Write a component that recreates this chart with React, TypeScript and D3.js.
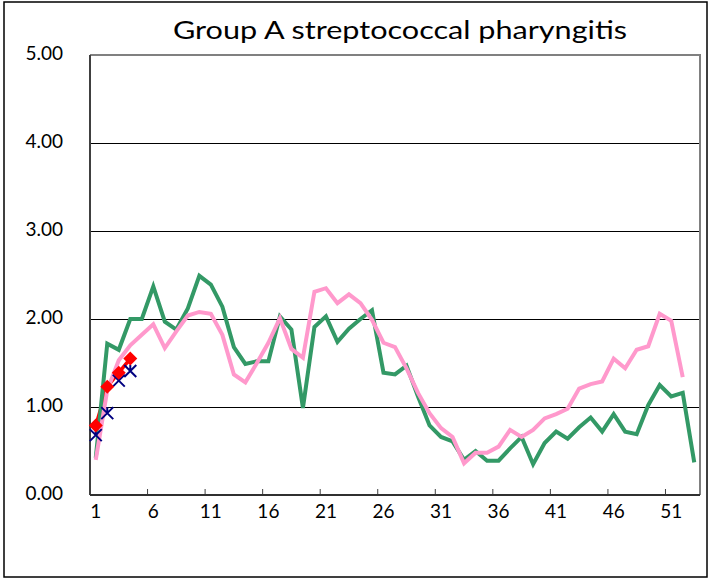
import React, { useEffect, useRef } from 'react';
import * as d3 from 'd3';

// weeks 1..53
const weeks: number[] = d3.range(1, 54);

// previous season series (green) and pink series
const greenValues: number[] = [
  0.42, 1.72, 1.65, 2.0, 2.0, 2.37, 1.97, 1.88, 2.12, 2.49,
  2.39, 2.14, 1.68, 1.49, 1.52, 1.52, 2.03, 1.88, 0.99, 1.91,
  2.03, 1.74, 1.89, 2.0, 2.1, 1.39, 1.37, 1.47, 1.12, 0.79,
  0.66, 0.61, 0.4, 0.5, 0.39, 0.39, 0.53, 0.66, 0.35, 0.59,
  0.72, 0.64, 0.77, 0.88, 0.72, 0.92, 0.72, 0.69, 1.02, 1.25,
  1.12, 1.16, 0.37,
];

const pinkValues: number[] = [
  0.4, 1.19, 1.53, 1.7, 1.82, 1.94, 1.67, 1.86, 2.04, 2.08,
  2.06, 1.82, 1.37, 1.28, 1.5, 1.73, 2.01, 1.66, 1.56, 2.31,
  2.35, 2.18, 2.28, 2.18, 1.99, 1.73, 1.68, 1.44, 1.16, 0.93,
  0.76, 0.66, 0.36, 0.48, 0.48, 0.55, 0.74, 0.66, 0.74, 0.87,
  0.92, 0.98, 1.21, 1.26, 1.29, 1.55, 1.44, 1.65, 1.69, 2.06,
  1.98, 1.34,
];

const blueValues: number[] = [0.68, 0.93, 1.3, 1.41];
const redValues: number[] = [0.79, 1.23, 1.39, 1.55];

const yTicks: number[] = [0, 1, 2, 3, 4, 5];
const xTickLabels: number[] = [1, 6, 11, 16, 21, 26, 31, 36, 41, 46, 51];

const title = 'Group A streptococcal pharyngitis';

export default function App() {
  const ref = useRef<SVGSVGElement>(null);

  useEffect(() => {
    const width = 709;
    const height = 584;
    const margin = { top: 55, right: 9, bottom: 89, left: 90 };
    const font = 'Lato, "Noto Sans", sans-serif';

    const svg = d3.select(ref.current);
    svg.selectAll('*').remove();

    const x = d3.scaleBand<number>()
      .domain(weeks)
      .range([margin.left, width - margin.right]);
    const cx = (w: number) => x(w)! + x.bandwidth() / 2;

    const y = d3.scaleLinear()
      .domain([0, 5])
      .range([height - margin.bottom, margin.top]);

    // outer border
    svg.append('rect')
      .attr('x', 4)
      .attr('y', 2)
      .attr('width', 703)
      .attr('height', 575)
      .attr('fill', '#fff')
      .attr('stroke', '#000')
      .attr('stroke-width', 1.5);

    // title
    svg.append('text')
      .attr('x', 400)
      .attr('y', 39)
      .attr('text-anchor', 'middle')
      .attr('font-family', font)
      .attr('font-size', 25)
      .attr('textLength', 454)
      .attr('lengthAdjust', 'spacingAndGlyphs')
      .text(title);

    // gridlines
    svg.append('g')
      .selectAll('line')
      .data(yTicks.filter((t) => t > 0 && t < 5))
      .enter()
      .append('line')
      .attr('x1', margin.left)
      .attr('x2', width - margin.right)
      .attr('y1', (d) => y(d) + 0.5)
      .attr('y2', (d) => y(d) + 0.5)
      .attr('stroke', '#000')
      .attr('stroke-width', 1);

    // plot frame top/right
    svg.append('path')
      .attr('d', `M${margin.left},${y(5)}H${width - margin.right}V${y(0)}`)
      .attr('fill', 'none')
      .attr('stroke', '#808080')
      .attr('stroke-width', 2);

    // y labels
    svg.append('g')
      .selectAll('text')
      .data(yTicks)
      .enter()
      .append('text')
      .attr('x', 63)
      .attr('y', (d) => y(d) + 5)
      .attr('text-anchor', 'end')
      .attr('font-family', font)
      .attr('font-size', 19)
      .text((d) => d3.format('.2f')(d));

    // x ticks at every 5 category boundaries
    const boundaries = [0, 5, 10, 15, 20, 25, 30, 35, 40, 45, 50];
    svg.append('g')
      .selectAll('line')
      .data(boundaries)
      .enter()
      .append('line')
      .attr('x1', (i) => x(weeks[i])!)
      .attr('x2', (i) => x(weeks[i])!)
      .attr('y1', y(0))
      .attr('y2', y(0) - 6)
      .attr('stroke', '#404040')
      .attr('stroke-width', 1);

    svg.append('g')
      .selectAll('text')
      .data(xTickLabels)
      .enter()
      .append('text')
      .attr('x', (d) => cx(d))
      .attr('y', 518)
      .attr('text-anchor', 'middle')
      .attr('font-family', font)
      .attr('font-size', 19)
      .text((d) => d);

    // axes lines
    svg.append('line')
      .attr('x1', margin.left)
      .attr('x2', margin.left)
      .attr('y1', y(5))
      .attr('y2', y(0))
      .attr('stroke', '#404040')
      .attr('stroke-width', 2);
    svg.append('line')
      .attr('x1', margin.left)
      .attr('x2', width - margin.right)
      .attr('y1', y(0))
      .attr('y2', y(0))
      .attr('stroke', '#303030')
      .attr('stroke-width', 2);

    const line = d3.line<number>()
      .x((d, i) => cx(weeks[i]))
      .y((d) => y(d));

    svg.append('path')
      .datum(redValues)
      .attr('d', line)
      .attr('fill', 'none')
      .attr('stroke', '#ff0000')
      .attr('stroke-width', 3.5);

    svg.append('path')
      .datum(greenValues)
      .attr('d', line)
      .attr('fill', 'none')
      .attr('stroke', '#339966')
      .attr('stroke-width', 4);

    svg.append('path')
      .datum(pinkValues)
      .attr('d', line)
      .attr('fill', 'none')
      .attr('stroke', '#ff99cc')
      .attr('stroke-width', 4);

    // blue star markers
    const s = 6;
    svg.append('g')
      .selectAll('path')
      .data(blueValues)
      .enter()
      .append('path')
      .attr('transform', (d, i) => `translate(${cx(weeks[i])},${y(d)})`)
      .attr('d', `M${-s},${-s}L${s},${s}M${-s},${s}L${s},${-s}M0,${-s}V0`)
      .attr('stroke', '#000080')
      .attr('stroke-width', 2)
      .attr('fill', 'none');

    // red diamond markers
    const r = 7;
    svg.append('g')
      .selectAll('path')
      .data(redValues)
      .enter()
      .append('path')
      .attr('transform', (d, i) => `translate(${cx(weeks[i])},${y(d)})`)
      .attr('d', `M0,${-r}L${r},0L0,${r}L${-r},0Z`)
      .attr('fill', '#ff0000');
  }, []);

  return (
    <svg
      ref={ref}
      width={709}
      height={584}
      viewBox="0 0 709 584"
      style={{ position: 'absolute', left: 0, top: 0 }}
    />
  );
}
